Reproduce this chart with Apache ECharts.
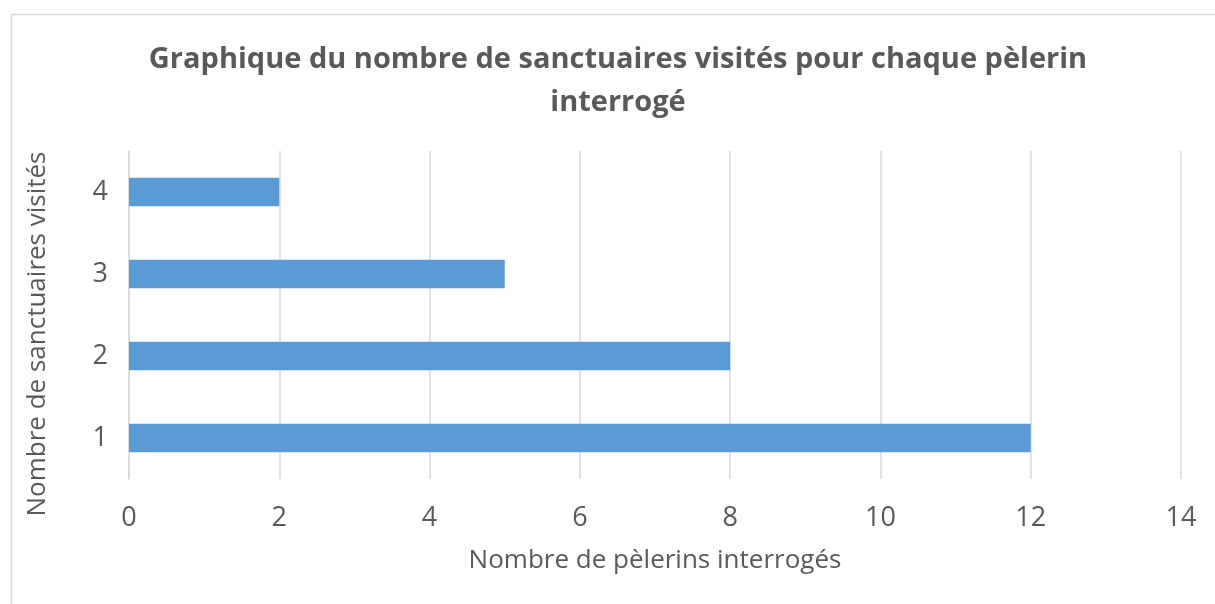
<!DOCTYPE html>
<html>
<head>
<meta charset="utf-8">
<script src="https://cdn.jsdelivr.net/npm/echarts@6/dist/echarts.min.js"></script>
<style>
html,body{margin:0;padding:0;background:#fff;}
#chart{width:1215px;height:604px;}
</style>
</head>
<body>
<div id="chart"></div>
<script>
const titleText = 'Graphique du nombre de sanctuaires visités pour chaque pèlerin\ninterrogé';
const xAxisName = 'Nombre de pèlerins interrogés';
const yAxisName = 'Nombre de sanctuaires visités';
const categories = ['1', '2', '3', '4'];
const pilgrimCounts = [12, 8, 5, 2];
const xMin = 0, xMax = 14, xStep = 2;

const FONT = '"Open Sans", sans-serif';
const TXT = '#595959';
const chart = echarts.init(document.getElementById('chart'), null, {renderer: 'canvas'});
chart.setOption({
  backgroundColor: '#ffffff',
  animation: false,
  graphic: [{
    type: 'rect', left: 9, top: 12,
    shape: {width: 1230, height: 620},
    style: {fill: 'none', stroke: '#d9d9d9', lineWidth: 1.5},
    silent: true
  }],
  title: {
    text: titleText,
    left: 613, top: 33, textAlign: 'center',
    textStyle: {fontFamily: FONT, fontWeight: 'bold', fontSize: 29, color: TXT, lineHeight: 43}
  },
  grid: {left: 129, right: 34, top: 151, bottom: 125, containLabel: false},
  xAxis: {
    type: 'value', min: xMin, max: xMax, interval: xStep,
    name: xAxisName, nameLocation: 'middle', nameGap: 69,
    nameTextStyle: {fontFamily: FONT, fontSize: 26, color: TXT},
    axisLine: {show: false}, axisTick: {show: false},
    axisLabel: {fontFamily: FONT, fontSize: 27, color: TXT, margin: 26},
    splitLine: {show: true, lineStyle: {color: '#d9d9d9', width: 1.5}}
  },
  yAxis: {
    type: 'category', data: categories,
    name: yAxisName, nameLocation: 'middle', nameGap: 78, nameRotate: 90,
    nameTextStyle: {fontFamily: FONT, fontSize: 26, color: TXT, padding: [0, 38, 0, 0]},
    axisLine: {show: true, lineStyle: {color: '#d9d9d9', width: 1.5}},
    axisTick: {show: false},
    axisLabel: {fontFamily: FONT, fontSize: 27, color: TXT, margin: 21}
  },
  series: [{
    type: 'bar', data: pilgrimCounts, barWidth: '35%',
    itemStyle: {color: '#5b9bd5'}
  }]
});
</script>
</body>
</html>
